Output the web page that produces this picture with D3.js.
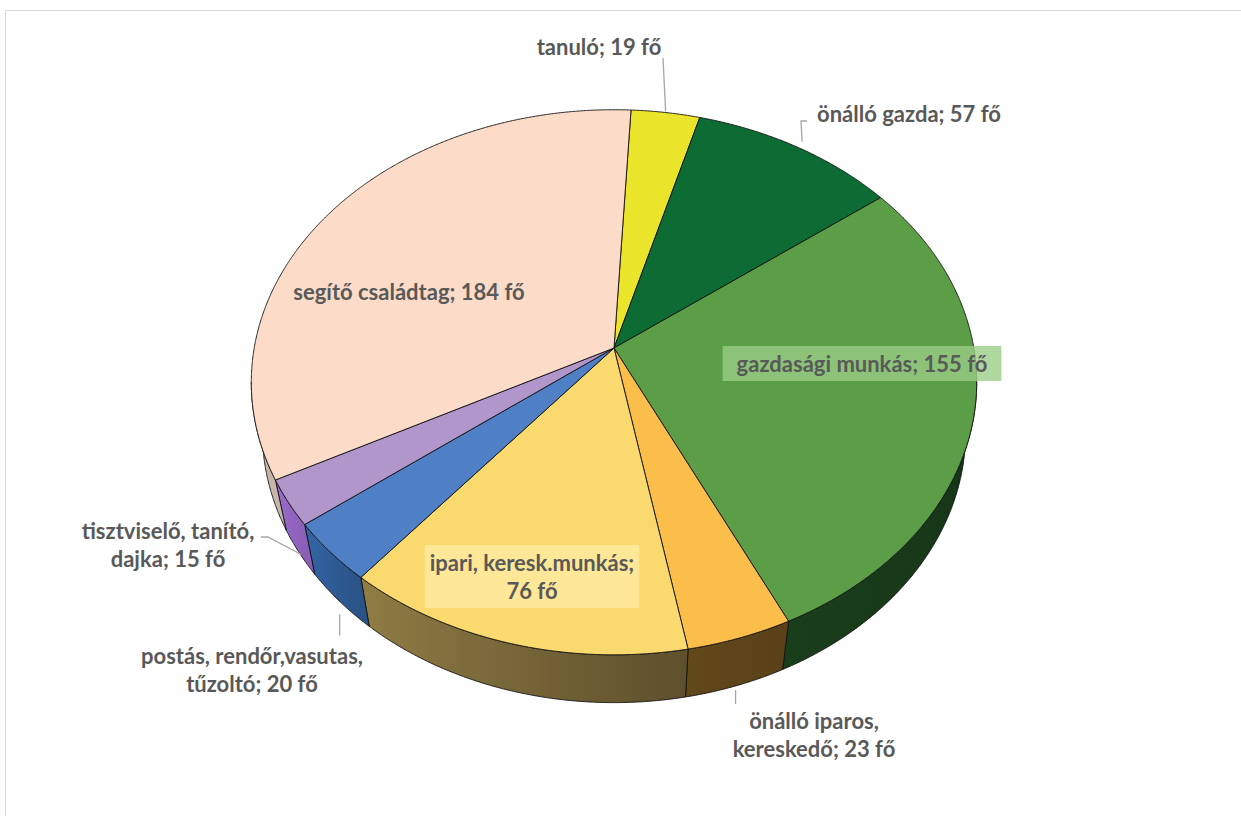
<!DOCTYPE html>
<html>
<head>
<meta charset="utf-8">
<script src="https://cdn.jsdelivr.net/npm/d3@7"></script>
<style>
  html, body { margin: 0; padding: 0; background: #fff; }
  svg { display: block; }
  text { font-family: Lato, "Open Sans", sans-serif; font-weight: 700; fill: #595959; }
</style>
</head>
<body>
<svg id="chart" width="1241" height="816"></svg>
<script>
// Occupations (persons)
const categories = [
  "tanuló",
  "önálló gazda",
  "gazdasági munkás",
  "önálló iparos,\nkereskedő",
  "ipari, keresk.munkás",
  "postás, rendőr,vasutas,\ntűzoltó",
  "tisztviselő, tanító,\ndajka",
  "segítő családtag"
];
const values = [19, 57, 155, 23, 76, 20, 15, 184];
const unit = "fő";

// Slice styling
const topColors  = ["#EAE42A", "#0D6B34", "#5B9E47", "#FBBE4A", "#FADA6E", "#4F7FC5", "#B196CC", "#FCDCC8"];
const sideColors = ["#7A7616", "#06381B", "#173819", "#5E4419", "#776638", "#2F5C96", "#9466C4", "#C9B9AC"];
// separator between name and value in each label
const labelSep = ["; ", "; ", "; ", "; ", ";\n", "; ", "; ", "; "];

const svg = d3.select("#chart");

// chart frame
svg.append("rect")
  .attr("x", 5.5).attr("y", 10.5).attr("width", 1240).attr("height", 812)
  .attr("fill", "#fff").attr("stroke", "#D9D9D9").attr("stroke-width", 1);

// ---- 3D projection of a tilted disc ----
const cx = 614, cy = 348;
const elev = 48.2 * Math.PI / 180;
const sE = Math.sin(elev), cE = Math.cos(elev);
const dist = 5.3, focal = 1907, thick = 0.22;

function proj(phi, r, h) {
  const u = r * Math.sin(phi), v = r * Math.cos(phi);
  const depth = v * cE - h * sE;
  const up = v * sE + h * cE;
  const k = focal / (dist + depth);
  return [cx + u * k, cy - up * k];
}

const startAngle = 3.05 * Math.PI / 180;
const pie = d3.pie().sort(null).value(d => d)
  .startAngle(startAngle).endAngle(startAngle + 2 * Math.PI);
const arcs = pie(values);

const line = d3.line();
const step = 0.25 * Math.PI / 180;

function arcPoints(a0, a1, r, h) {
  const n = Math.max(2, Math.ceil(Math.abs(a1 - a0) / step));
  return d3.range(n + 1).map(i => proj(a0 + (a1 - a0) * i / n, r, h));
}

// visible side range (silhouette of the rim)
const phiVis0 = Math.acos(-cE / dist);
const phiVis1 = 2 * Math.PI - phiVis0;

// side brightness along the rim (light from the left)
const shadeAt = d3.scaleLinear()
  .domain([97, 155, 170, 219, 232, 242, 263].map(d => d * Math.PI / 180))
  .range([0.27, 0.33, 0.37, 0.57, 0.70, 0.80, 0.82])
  .clamp(true);

const defs = svg.append("defs");
const sides = svg.append("g");
const tops = svg.append("g");

arcs.forEach((a, i) => {
  const lo = Math.max(a.startAngle, phiVis0);
  const hi = Math.min(a.endAngle, phiVis1);
  if (hi <= lo) return;
  const topEdge = arcPoints(lo, hi, 1, 0);
  const botEdge = arcPoints(hi, lo, 1, -thick);
  const x1 = topEdge[0][0], x2 = topEdge[topEdge.length - 1][0];
  const mid = (lo + hi) / 2;
  const base = d3.rgb(sideColors[i]);
  const grad = defs.append("linearGradient")
    .attr("id", "side" + i)
    .attr("gradientUnits", "userSpaceOnUse")
    .attr("x1", x1).attr("y1", 0).attr("x2", x2).attr("y2", 0);
  d3.range(9).forEach(j => {
    const phi = lo + (hi - lo) * j / 8;
    const f = shadeAt(phi) / shadeAt(mid);
    const c = d3.rgb(Math.min(255, base.r * f), Math.min(255, base.g * f), Math.min(255, base.b * f));
    grad.append("stop")
      .attr("offset", (proj(phi, 1, 0)[0] - x1) / (x2 - x1))
      .attr("stop-color", c.formatHex());
  });
  sides.append("path")
    .attr("d", line(topEdge.concat(botEdge)) + "Z")
    .attr("fill", `url(#side${i})`)
    .attr("stroke", "#111")
    .attr("stroke-width", 0.9)
    .attr("stroke-linejoin", "round");
});

arcs.forEach((a, i) => {
  const pts = [proj(0, 0, 0)].concat(arcPoints(a.startAngle, a.endAngle, 1, 0));
  tops.append("path")
    .attr("d", line(pts) + "Z")
    .attr("fill", topColors[i])
    .attr("stroke", "#111")
    .attr("stroke-width", 0.9)
    .attr("stroke-linejoin", "round");
});

// ---- labels ----
const midAngle = a => (a.startAngle + a.endAngle) / 2;
const labelText = i => (categories[i] + labelSep[i] + values[i] + " " + unit).split("\n");

// label placement: center x, first baseline y, optional leader to the rim and backing box
const labelLayout = [
  { slice: 0, x: 599, y: 55,  leader: i => { const p = proj(midAngle(arcs[i]), 1, 0); return [[663, 58], [p[0], p[1] - 1]]; } },
  { slice: 1, x: 909, y: 122, leader: i => { const p = proj(midAngle(arcs[i]), 1.03, 0); return [[807, 121], [801, 121], p]; } },
  { slice: 7, x: 409, y: 300 },
  { slice: 2, x: 862, y: 372, box: "rgba(153,205,133,0.79)", padX: 14, padY: 4 },
  { slice: 3, x: 814, y: 729, leader: i => { const p = proj(midAngle(arcs[i]), 1.0, -thick); return [[p[0], p[1] + 4], [p[0], p[1] + 18]]; } },
  { slice: 4, x: 532, y: 571, box: "rgba(255,234,160,0.8)", padX: 5, padY: 4 },
  { slice: 5, x: 252, y: 664, leader: i => { const p = proj(midAngle(arcs[i]), 1.0, -thick); return [[p[0], p[1] + 13], [p[0], p[1] + 34]]; } },
  { slice: 6, x: 168, y: 539, leader: i => { const p = proj(midAngle(arcs[i]), 1.0, -thick); return [[261, 537], [268, 537], [p[0] + 2, p[1] + 2]]; } }
];

const labels = svg.append("g");
const lineH = 28;
labelLayout.forEach(L => {
  const lines = labelText(L.slice);
  if (L.leader) {
    labels.append("path")
      .attr("d", line(L.leader(L.slice)))
      .attr("fill", "none")
      .attr("stroke", "#A6A6A6")
      .attr("stroke-width", 1.3);
  }
  const g = labels.append("g");
  const t = g.append("text")
    .attr("text-anchor", "middle")
    .attr("font-size", 22);
  lines.forEach((s, j) => {
    t.append("tspan").attr("x", L.x).attr("y", L.y + j * lineH).text(s);
  });
  if (L.box) {
    const bb = t.node().getBBox();
    g.insert("rect", "text")
      .attr("x", bb.x - L.padX).attr("y", bb.y - L.padY)
      .attr("width", bb.width + 2 * L.padX).attr("height", bb.height + 2 * L.padY)
      .attr("fill", L.box);
  }
});
</script>
</body>
</html>
